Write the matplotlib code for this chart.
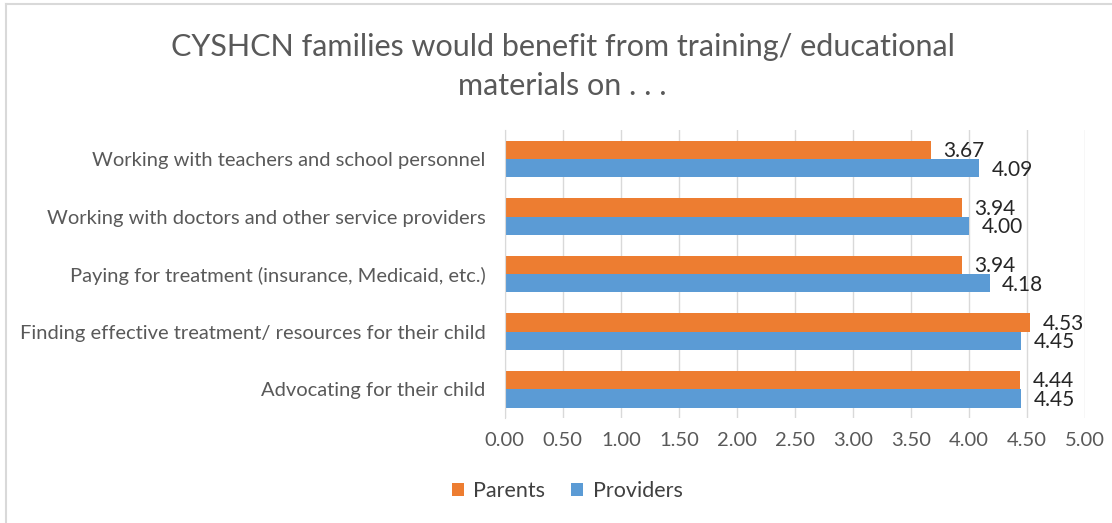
import numpy as np
import matplotlib
matplotlib.use("Agg")
import matplotlib.pyplot as plt
from matplotlib.lines import Line2D

plt.rcParams['font.family'] = ['Lato', 'DejaVu Sans']

# Survey topics, listed bottom to top as drawn
topics = [
    "Advocating for their child",
    "Finding effective treatment/ resources for their child",
    "Paying for treatment (insurance, Medicaid, etc.)",
    "Working with doctors and other service providers",
    "Working with teachers and school personnel",
]
parents = [4.44, 4.53, 3.94, 3.94, 3.67]
providers = [4.45, 4.45, 4.18, 4.00, 4.09]
xticks = [0.0, 0.5, 1.0, 1.5, 2.0, 2.5, 3.0, 3.5, 4.0, 4.5, 5.0]

orange = "#ED7D31"
blue = "#5B9BD5"
grey_txt = "#595959"

fig = plt.figure(figsize=(11.12, 5.23), dpi=100)
ax = fig.add_axes([0.454, 0.201, 0.5216, 0.55])

y = np.arange(len(topics))
h = 0.32
ax.barh(y + h / 2, parents, height=h, color=orange, label="Parents")
ax.barh(y - h / 2, providers, height=h, color=blue, label="Providers")

for yi, p, q in zip(y, parents, providers):
    ax.annotate(f"{p:.2f}", (p, yi + h / 2), xytext=(9, -1), textcoords="offset points",
                va="center", ha="left", fontsize=15, color="#262626")
    ax.annotate(f"{q:.2f}", (q, yi - h / 2), xytext=(9, -1), textcoords="offset points",
                va="center", ha="left", fontsize=15, color="#262626")

ax.set_xlim(0, 5)
ax.set_ylim(-0.5, len(topics) - 0.5)
ax.set_xticks(xticks)
ax.set_xticklabels([f"{t:.2f}" for t in xticks], fontsize=14.5, color=grey_txt)
ax.set_yticks(y)
ax.set_yticklabels(topics, fontsize=14.5, color=grey_txt)
ax.tick_params(axis="both", length=0)
ax.tick_params(axis="x", pad=10)
ax.tick_params(axis="y", pad=14)
ax.grid(axis="x", color="#D9D9D9", linewidth=1)
ax.set_axisbelow(True)
for s in ["top", "right", "bottom"]:
    ax.spines[s].set_visible(False)
ax.spines["left"].set_color("#D9D9D9")

fig.text(0.506, 0.873, "CYSHCN families would benefit from training/ educational\nmaterials on . . .",
         ha="center", va="center", fontsize=22, color=grey_txt, linespacing=1.45)

ax.legend(loc="center", bbox_to_anchor=(0.51, 0.061), bbox_transform=fig.transFigure,
          ncol=2, frameon=False, fontsize=15.5, handlelength=0.55, handleheight=0.55,
          columnspacing=1.2, handletextpad=0.45, labelcolor="#404040")

# thin frame lines on the top and left edges
fig.add_artist(Line2D([0.0058, 0.0058], [0, 0.992], transform=fig.transFigure, color="#D9D9D9", lw=1.5))
fig.add_artist(Line2D([0.0058, 1.0], [0.992, 0.992], transform=fig.transFigure, color="#D9D9D9", lw=1.5))

fig.savefig("out.png", dpi=100, facecolor="white")
